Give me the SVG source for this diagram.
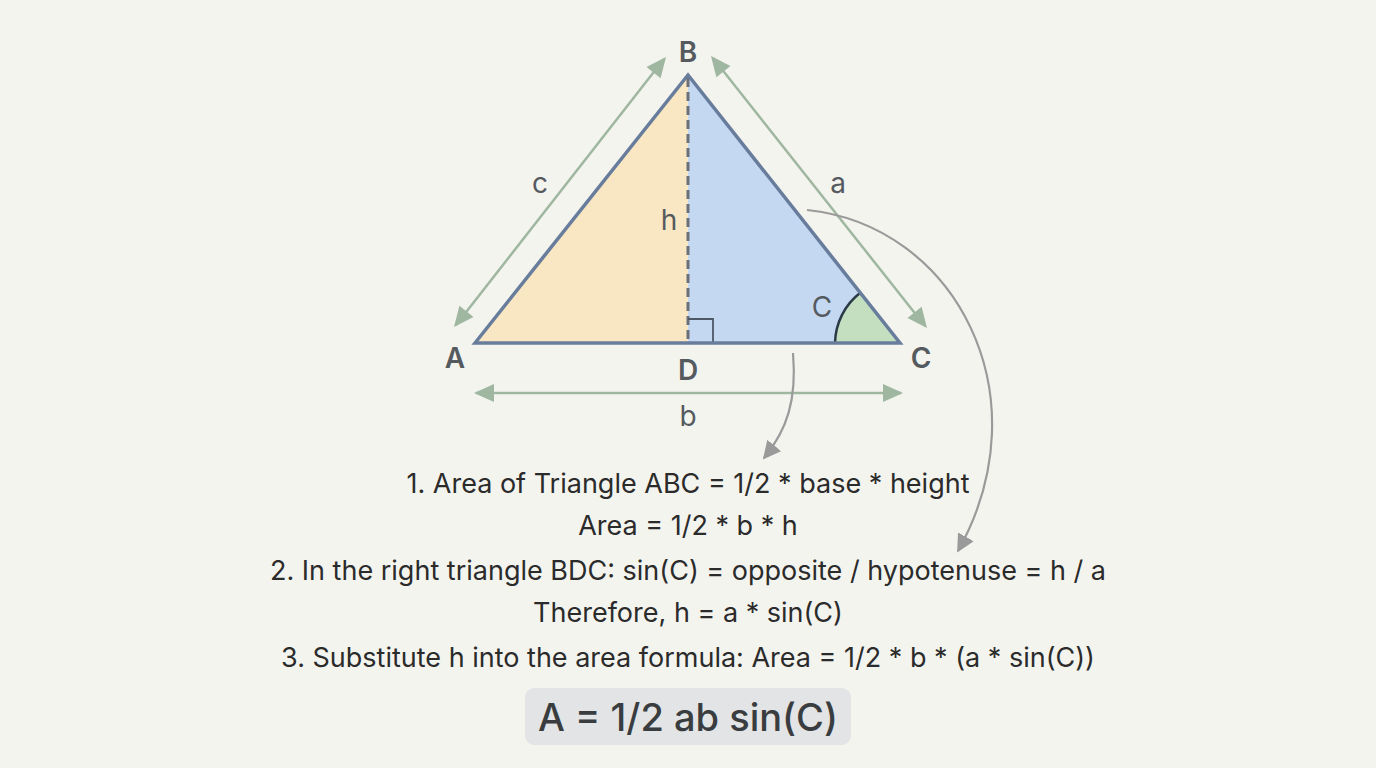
<svg xmlns="http://www.w3.org/2000/svg" width="1376" height="768" viewBox="0 0 1376 768">
<style>
.lbl{font-family:Inter,"Liberation Sans",sans-serif;fill:#555a5f;text-anchor:middle;}
.vtx{font-size:28px;font-weight:600;}
.side{font-size:28px;font-weight:400;}
.eq{font-family:Inter,"Liberation Sans",sans-serif;font-size:27px;fill:#2b2b2b;text-anchor:middle;}
.dim{stroke:#9fb7a0;stroke-width:2.5;fill:none;}
.cur{stroke:#9a9a9a;stroke-width:2.2;fill:none;}
.ah{fill:#9fb7a0;}
</style>
<defs>
<marker id="gr" viewBox="0 0 10 10" refX="9" refY="5" markerWidth="18" markerHeight="18" orient="auto" markerUnits="userSpaceOnUse">
<path d="M0,0 L10,5 L0,10 z" fill="#9a9a9a"/>
</marker>
<polygon id="head" points="0,0 -20,-9 -20,9"/>
</defs>
<rect width="1376" height="768" fill="#f4f4ef"/>

<g id="triangle">
<polygon points="475,343 688,75 688,343" fill="#f9e7c3"/>
<polygon points="688,75 900,343 688,343" fill="#c4d8f2"/>
<path d="M835,343 A65,65 0 0 1 860.6,292.5 L900,343 z" fill="#c3dfc0"/>
<path d="M835,343 A65,65 0 0 1 860.6,292.5" fill="none" stroke="#2c3a48" stroke-width="2.5"/>
<line x1="688" y1="78" x2="688" y2="343" stroke="#6b7078" stroke-width="3" stroke-dasharray="9,5"/>
<path d="M688,319 H713 V343" fill="none" stroke="#4d5866" stroke-width="1.8"/>
<polygon points="475,343 688,75 900,343" fill="none" stroke="#687d9c" stroke-width="3.5" stroke-linejoin="miter"/>
</g>

<g id="connectors">
<line class="dim" x1="456" y1="325" x2="664" y2="59"/>
<line class="dim" x1="713" y1="58" x2="925" y2="326"/>
<line class="dim" x1="476" y1="393" x2="901" y2="393"/>
<path class="cur" d="M793,353 C797,400 787,430 764,458" marker-end="url(#gr)"/>
<path class="cur" d="M807,210 C955,225 1045,395 958,551" marker-end="url(#gr)"/>
<g class="ah">
<use href="#head" transform="translate(666,57) rotate(-51.5)"/>
<use href="#head" transform="translate(454,327) rotate(128.5)"/>
<use href="#head" transform="translate(711,56) rotate(231.6)"/>
<use href="#head" transform="translate(927,328) rotate(51.6)"/>
<use href="#head" transform="translate(474,393) rotate(180)"/>
<use href="#head" transform="translate(903,393)"/>
</g>
</g>

<g id="labels">
<text class="lbl vtx" x="688" y="62">B</text>
<text class="lbl vtx" x="455" y="368">A</text>
<text class="lbl vtx" x="921" y="368">C</text>
<text class="lbl vtx" x="688" y="380">D</text>
<text class="lbl side" x="688" y="426">b</text>
<text class="lbl side" x="540" y="193">c</text>
<text class="lbl side" x="838" y="193">a</text>
<text class="lbl side" x="669" y="230">h</text>
<text class="lbl side" x="822" y="317">C</text>
</g>

<g id="equations">
<text class="eq" x="688" y="493">1. Area of Triangle ABC = 1/2 * base * height</text>
<text class="eq" x="688" y="535">Area = 1/2 * b * h</text>
<text class="eq" x="688" y="580">2. In the right triangle BDC: sin(C) = opposite / hypotenuse = h / a</text>
<text class="eq" x="688" y="622">Therefore, h = a * sin(C)</text>
<text class="eq" x="688" y="667">3. Substitute h into the area formula: Area = 1/2 * b * (a * sin(C))</text>
</g>

<g id="result">
<rect x="525" y="688" width="326" height="57" rx="9" fill="#e2e4e5"/>
<text x="688" y="731" font-family="Inter,'Liberation Sans',sans-serif" font-size="38" font-weight="500" fill="#3a3d40" text-anchor="middle">A = 1/2 ab sin(C)</text>
</g>
</svg>
